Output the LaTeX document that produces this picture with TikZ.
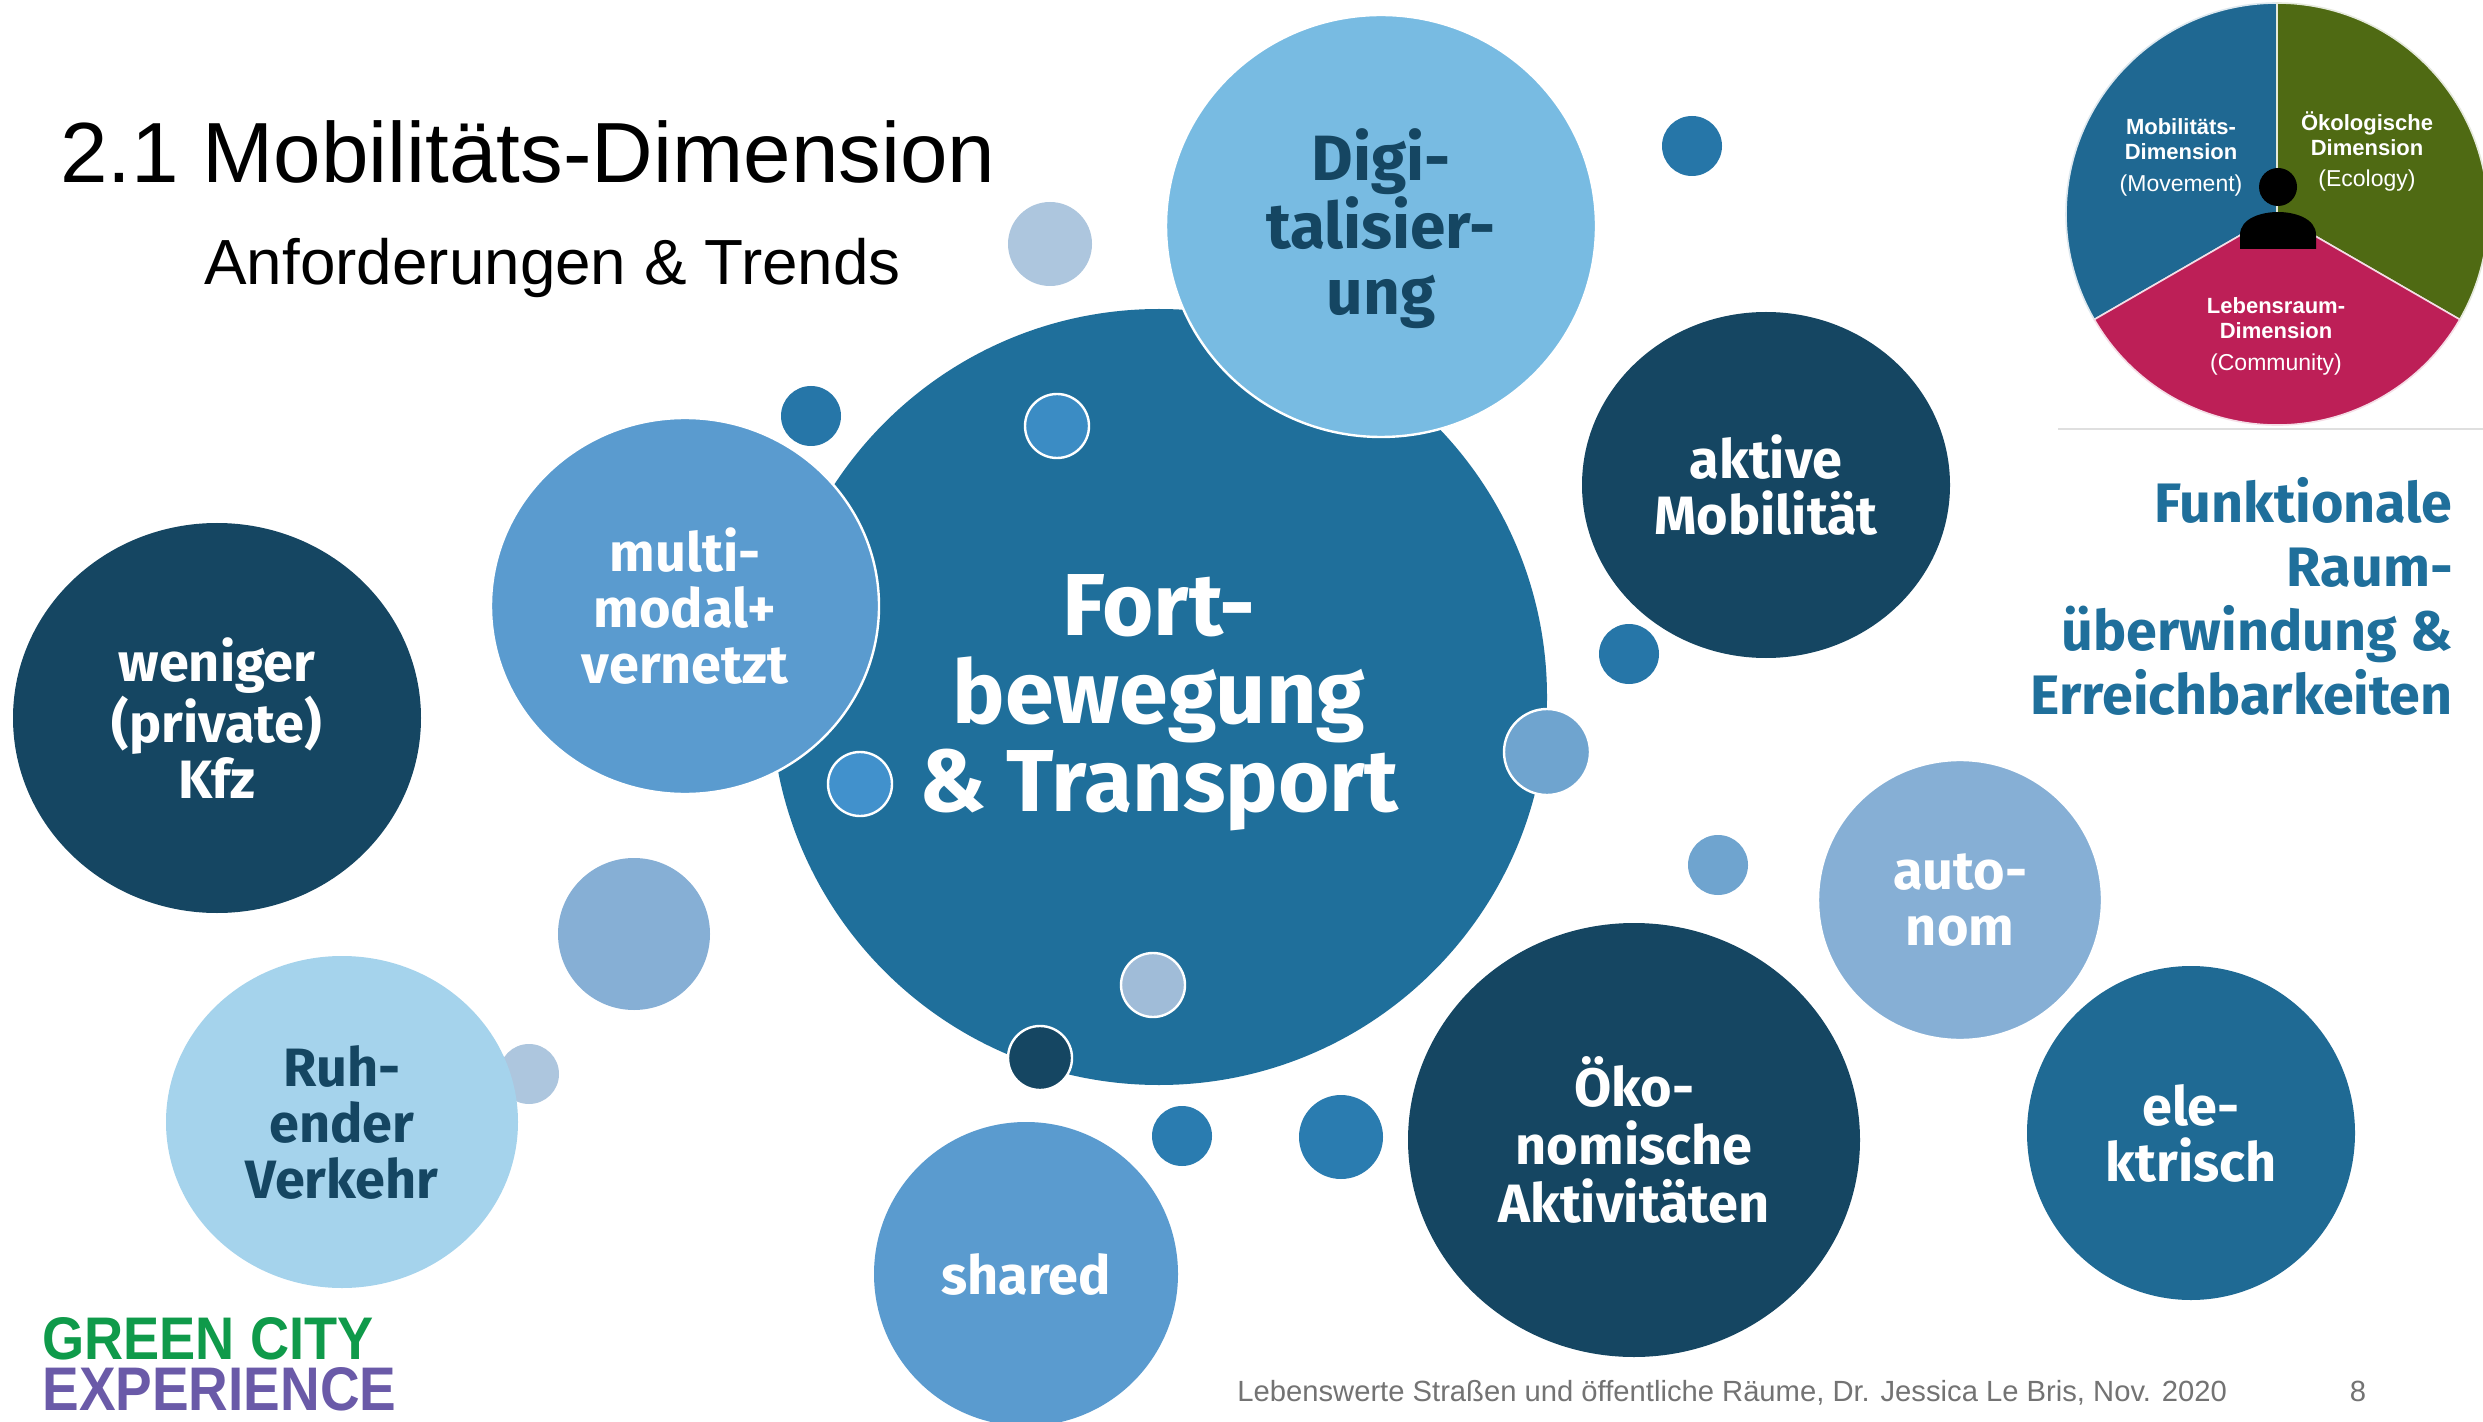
\documentclass[tikz,border=0pt]{standalone}
\usepackage{fontspec}
\usepackage{graphicx}
\usetikzlibrary{shapes.geometric}
\setmainfont{Liberation Sans}
\newfontfamily\bubfont{Fira Sans}
\definecolor{cbig}{HTML}{1F6F9B}
\definecolor{cdark}{HTML}{154662}
\definecolor{cdigi}{HTML}{78BBE2}
\definecolor{cmulti}{HTML}{5A9BCF}
\definecolor{cruh}{HTML}{A5D3EC}
\definecolor{cauto}{HTML}{86AFD5}
\definecolor{cele}{HTML}{1F6A94}
\definecolor{cdot}{HTML}{2676A8}
\definecolor{cdotb}{HTML}{2A7CB0}
\definecolor{cdotc}{HTML}{3B8CC4}
\definecolor{cdotd}{HTML}{4191CC}
\definecolor{cdote}{HTML}{6FA4CF}
\definecolor{cdotf}{HTML}{A0BCD8}
\definecolor{cpale}{HTML}{ADC6DE}
\definecolor{cpieb}{HTML}{1F6892}
\definecolor{cpieg}{HTML}{4F6A13}
\definecolor{cpier}{HTML}{BD1F57}
\definecolor{clogog}{HTML}{0F9A4A}
\definecolor{clogop}{HTML}{6A5AA8}
\tikzset{
  blob/.style n args={3}{ellipse,inner sep=0pt,outer sep=0pt,draw=none,fill=#1,
     minimum width=#2 pt,minimum height=#3 pt,align=center,text=white},
  ringed/.style={draw=white,line width=1.2pt},
  dot/.style n args={2}{circle,inner sep=0pt,outer sep=0pt,fill=#1,minimum size=#2 pt},
  blabel/.style={font=\bubfont\bfseries\fontsize{27}{28}\selectfont},
  pielabel/.style={inner sep=0pt,align=center,text=white,font=\bfseries\fontsize{11}{12.5}\selectfont},
  piesub/.style={inner sep=0pt,text=white,font=\fontsize{11.5}{13}\selectfont},
}
\begin{document}
\begin{tikzpicture}[x=0.5pt,y=-0.5pt]
\clip (0,0) rectangle (2483,1422);
\fill[white] (0,0) rectangle (2483,1422);

% title
\node[anchor=base west,inner sep=0pt,font=\fontsize{42.7}{50}\selectfont] (title) at (60,183) {2.1 Mobilitäts-Dimension};
\node[anchor=base west,inner sep=0pt,font=\fontsize{31.9}{36}\selectfont] (subtitle) at (204,285) {Anforderungen \& Trends};

% small bubbles behind
\node[dot={cpale}{42}] (d2) at (1050,244) {};
\node[dot={cpale}{30}] (d10) at (529,1074) {};
\node[dot={cauto}{76}] (d9) at (634,934) {};
\node[dot={cdot}{30}] (d1) at (1692,146) {};
\node[dot={cdot}{30}] (d3) at (811,416) {};
\node[dot={cdot}{30}] (d6) at (1629,654) {};
\node[dot={cdotb}{30}] (d13) at (1182,1136) {};
\node[dot={cdotb}{42}] (d14) at (1341,1137) {};
\node[dot={cdote}{30}] (d8) at (1718,865) {};

% main bubbles
\node[blob={cbig}{388}{388}] (big) at (1159,697) {};
\node[inner sep=0pt,align=center,text=white,font=\bubfont\bfseries\fontsize{44}{44}\selectfont] (bigtext) at (1159,703) {Fort-\\bewegung\\\& Transport};
\node[blob={cdigi}{215}{211},ringed] (digi) at (1381,226) {};
\node[inner sep=0pt,align=center,text=cdark,font=\bubfont\bfseries\fontsize{32}{33}\selectfont] (digitext) at (1381,229) {Digi-\\talisier-\\ung};
\node[blob={cmulti}{194}{188},ringed,blabel] (multi) at (685,606) {multi-\\modal+\\vernetzt};
\node[blob={cdark}{184}{173},blabel] (aktive) at (1766,485) {aktive\\Mobilität};
\node[blob={cdark}{204}{195},blabel] (weniger) at (217,718) {weniger\\(private)\\Kfz};
\node[blob={cruh}{176}{166},blabel,text=cdark] (ruh) at (342,1122) {Ruh-\\ender\\Verkehr};
\node[blob={cmulti}{152}{152},blabel] (shared) at (1026,1274) {shared};
\node[blob={cele}{164}{167},blabel] (ele) at (2191,1133) {ele-\\ktrisch};
\node[blob={cauto}{142}{140},ringed,blabel] (auto) at (1960,900) {auto-\\nom};
\node[blob={cdark}{226}{217},font=\bubfont\bfseries\fontsize{27}{29}\selectfont] (oeko) at (1634,1140) {Öko-\\nomische\\Aktivitäten};

% ringed small bubbles on top
\node[dot={cdotc}{32},ringed] (d4) at (1057,426) {};
\node[dot={cdotd}{32},ringed] (d5) at (860,784) {};
\node[dot={cdote}{43},ringed] (d7) at (1547,752) {};
\node[dot={cdotf}{32},ringed] (d11) at (1153,985) {};
\node[dot={cdark}{32},ringed] (d12) at (1040,1058) {};

% right text
\node[anchor=north east,inner sep=0pt,align=right,text=cbig,font=\bubfont\bfseries\fontsize{27.8}{32}\selectfont] (func) at (2453,477) {Funktionale\\Raum-\\überwindung \&\\Erreichbarkeiten};

% pie
\fill[cpieb,draw=white!85!cpieb,line width=0.8pt] (2277,214) -- (2277,3) arc[start angle=90,end angle=210,radius=105.5pt] -- cycle;
\fill[cpieg,draw=white!85!cpieg,line width=0.8pt] (2277,214) -- (2277,3) arc[start angle=90,end angle=-30,radius=105.5pt] -- cycle;
\fill[cpier,draw=white!85!cpier,line width=0.8pt] (2277,214) -- (2094.3,319.5) arc[start angle=210,end angle=330,radius=105.5pt] -- cycle;
\draw[gray!25,line width=0.7pt] (2058,429) -- (2483,429);
\node[circle,fill=black,inner sep=0pt,minimum size=19pt] (head) at (2278,187) {};
\fill[black] (2240,249) -- (2240,235) .. controls (2240,218) and (2262,212) .. (2278,212) .. controls (2294,212) and (2316,218) .. (2316,235) -- (2316,249) -- cycle;
\node[pielabel] (p1) at (2181,139) {Mobilitäts-\\Dimension};
\node[piesub] (p1s) at (2181,186) {(Movement)};
\node[pielabel] (p2) at (2367,134) {Ökologische\\Dimension};
\node[piesub] (p2s) at (2367,181) {(Ecology)};
\node[pielabel] (p3) at (2276,318) {Lebensraum-\\Dimension};
\node[piesub] (p3s) at (2276,365) {(Community)};

% logo
\node[anchor=north west,inner sep=0pt] (logo1) at (42,1317) {\resizebox{165.5pt}{21pt}{\color{clogog}\bfseries GREEN CITY}};
\node[anchor=north west,inner sep=0pt] (logo2) at (42,1367) {\resizebox{177pt}{21.5pt}{\color{clogop}\bfseries EXPERIENCE}};

% footer
\node[anchor=base west,inner sep=0pt,text=black!55,font=\fontsize{14.6}{17}\selectfont] (foot) at (1237,1401) {Lebenswerte Straßen und öffentliche Räume, Dr. Jessica Le Bris, Nov. 2020};
\node[anchor=base,inner sep=0pt,text=black!55,font=\fontsize{14.6}{17}\selectfont] (page) at (2358,1401) {8};
\end{tikzpicture}
\end{document}
